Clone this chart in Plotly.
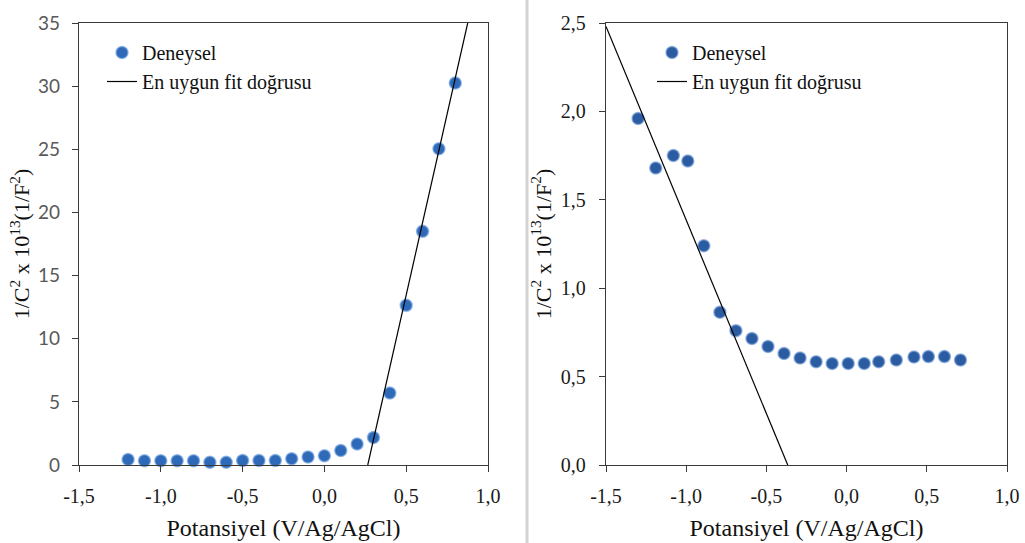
import plotly.graph_objects as go

# ---- data (left panel) ----
left_x = [-1.2, -1.1, -1.0, -0.9, -0.8, -0.7, -0.6, -0.5, -0.4, -0.3, -0.2,
          -0.1, 0.0, 0.1, 0.2, 0.3, 0.4, 0.5, 0.6, 0.7, 0.8]
left_y = [0.44, 0.33, 0.33, 0.33, 0.33, 0.22, 0.22, 0.36, 0.36, 0.36, 0.49,
          0.63, 0.74, 1.15, 1.67, 2.17, 5.7, 12.64, 18.5, 25.04, 30.25]
left_fit_x = [0.265, 0.876]
left_fit_y = [0.0, 35.0]

# ---- data (right panel) ----
right_x = [-1.30, -1.19, -1.08, -0.99, -0.89, -0.79, -0.69, -0.59, -0.49, -0.39,
           -0.29, -0.19, -0.09, 0.01, 0.11, 0.20, 0.31, 0.42, 0.51, 0.61, 0.71]
right_y = [1.96, 1.68, 1.75, 1.72, 1.24, 0.864, 0.76, 0.715, 0.67, 0.631,
           0.605, 0.584, 0.574, 0.574, 0.574, 0.584, 0.594, 0.611, 0.613, 0.613, 0.594]
right_fit_x = [-1.5, -0.367]
right_fit_y = [2.48, 0.0]

x_ticks = [-1.5, -1.0, -0.5, 0.0, 0.5, 1.0]
x_tick_labels = ["-1,5", "-1,0", "-0,5", "0,0", "0,5", "1,0"]
left_y_ticks = [0, 5, 10, 15, 20, 25, 30, 35]
right_y_ticks = [0.0, 0.5, 1.0, 1.5, 2.0, 2.5]
right_y_tick_labels = ["0,0", "0,5", "1,0", "1,5", "2,0", "2,5"]

name_points = "Deneysel"
name_fit = "En uygun fit doğrusu"
x_title = "Potansiyel (V/Ag/AgCl)"
y_title = "1/C<sup>2</sup> x 10<sup>13</sup>(1/F<sup>2</sup>)"

SERIF = "Liberation Serif"
W, H = 1025, 543

fig = go.Figure()

fig.add_trace(go.Scatter(
    x=left_x, y=left_y, mode="markers", name=name_points,
    marker=dict(size=12, color="#2e6ab8", line=dict(width=1.5, color="rgba(120,165,225,0.7)")),
    cliponaxis=False, xaxis="x", yaxis="y", legend="legend"))
fig.add_trace(go.Scatter(
    x=left_fit_x, y=left_fit_y, mode="lines", name=name_fit,
    line=dict(color="black", width=1.2), xaxis="x", yaxis="y", legend="legend"))

fig.add_trace(go.Scatter(
    x=right_x, y=right_y, mode="markers", name=name_points,
    marker=dict(size=12, color="#2b5ca2", line=dict(width=1.5, color="rgba(120,160,215,0.7)")),
    cliponaxis=False, xaxis="x2", yaxis="y2", legend="legend2"))
fig.add_trace(go.Scatter(
    x=right_fit_x, y=right_fit_y, mode="lines", name=name_fit,
    line=dict(color="black", width=1.2), xaxis="x2", yaxis="y2", legend="legend2"))

ydom = [1 - 465 / H, 1 - 23 / H]
axis_common = dict(showgrid=False, zeroline=False, showline=True, mirror=True,
                   linecolor="#3a3a3a", linewidth=1.3, ticks="outside", ticklen=6,
                   tickwidth=1.3, tickcolor="#3a3a3a", automargin=False)

xtitle_font = dict(family=SERIF, size=24, color="#111")
ytitle_font = dict(family=SERIF, size=22, color="#111")
tick_font = dict(family=SERIF, size=20, color="#1a1a1a")
legend_font = dict(family=SERIF, size=20, color="#111")

fig.update_layout(
    width=W, height=H,
    margin=dict(l=0, r=0, t=0, b=0),
    paper_bgcolor="white", plot_bgcolor="white",
    font=dict(family=SERIF, size=20, color="#1a1a1a"),
    xaxis=dict(domain=[79 / W, 488 / W], range=[-1.5, 1.0], tickvals=x_ticks,
               ticktext=x_tick_labels, anchor="y", tickfont=tick_font,
               ticklabelstandoff=7,
               title=dict(text=x_title, font=xtitle_font, standoff=13),
               **axis_common),
    yaxis=dict(domain=ydom, range=[0, 35], tickvals=left_y_ticks, anchor="x",
               tickfont=dict(family="Lato", size=19, color="#595959"),
               ticklabelstandoff=8,
               title=dict(text=y_title, font=ytitle_font, standoff=2),
               **axis_common),
    xaxis2=dict(domain=[606 / W, 1007 / W], range=[-1.5, 1.0], tickvals=x_ticks,
                ticktext=x_tick_labels, anchor="y2", tickfont=tick_font,
                ticklabelstandoff=7,
                title=dict(text=x_title, font=xtitle_font, standoff=13),
                **axis_common),
    yaxis2=dict(domain=ydom, range=[0, 2.5], tickvals=right_y_ticks,
                ticktext=right_y_tick_labels, anchor="x2", tickfont=tick_font,
                ticklabelstandoff=9,
                title=dict(text=y_title, font=ytitle_font, standoff=3),
                **axis_common),
    legend=dict(x=102 / W, y=1 - 33 / H, xanchor="left", yanchor="top",
                bgcolor="rgba(0,0,0,0)", font=legend_font,
                tracegroupgap=0, itemsizing="trace"),
    legend2=dict(x=652 / W, y=1 - 33 / H, xanchor="left", yanchor="top",
                 bgcolor="rgba(0,0,0,0)", font=legend_font,
                 tracegroupgap=0, itemsizing="trace"),
    shapes=[dict(type="line", xref="paper", yref="paper", x0=527 / W, x1=527 / W,
                 y0=0, y1=1, line=dict(color="#d4d4d4", width=3))],
)

fig.write_html("out.html")
